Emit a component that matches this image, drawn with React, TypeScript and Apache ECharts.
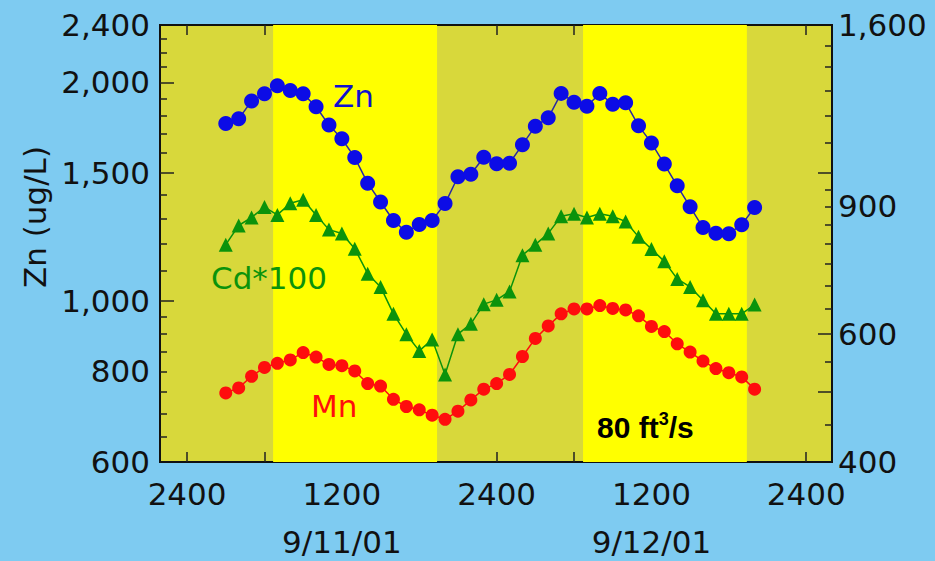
import React, { useEffect, useRef } from 'react';
import * as echarts from 'echarts';

// Hours since midnight starting 9/11/01 (hourly samples)
const hours = [3, 4, 5, 6, 7, 8, 9, 10, 11, 12, 13, 14, 15, 16, 17, 18, 19, 20, 21, 22, 23, 24,
  25, 26, 27, 28, 29, 30, 31, 32, 33, 34, 35, 36, 37, 38, 39, 40, 41, 42, 43, 44];

const zn = [1756, 1782, 1886, 1929, 1979, 1950, 1929, 1852, 1747, 1673, 1576, 1453, 1369, 1291,
  1244, 1275, 1291, 1362, 1483, 1495, 1578, 1545, 1548, 1642, 1741, 1788, 1932, 1879, 1855, 1932,
  1866, 1876, 1744, 1651, 1544, 1441, 1348, 1262, 1240, 1238, 1274, 1345];

const cd100 = [797, 847, 869, 898, 876, 909, 919, 876, 836, 826, 787, 727, 697, 640, 600, 569,
  590, 528, 600, 620, 660, 669, 687, 771, 797, 826, 872, 879, 869, 879, 872, 858, 817, 786, 756,
  715, 697, 668, 640, 640, 640, 659];

const mn = [498, 506, 525, 540, 547, 553, 566, 558, 545, 543, 534, 513, 509, 488, 477, 472, 464,
  458, 470, 487, 504, 513, 528, 559, 592, 616, 640, 650, 650, 657, 651, 648, 636, 615, 605, 582,
  567, 551, 538, 531, 524, 504];

// daylight periods (hours)
const dayBands = [[6.67, 19.38], [30.7, 43.4]];

const xTickHours = [0, 6, 12, 18, 24, 30, 36, 42, 48];
const xLabelHours = [0, 12, 24, 36, 48];
const xLabelTexts = ['2400', '1200\n9/11/01', '2400', '1200\n9/12/01', '2400'];

const leftTickLabels = [600, 800, 1000, 1500, 2000, 2400];
const leftMinorTicks = [650, 700, 750, 800, 850, 900, 950, 1100, 1200, 1300, 1400, 1600, 1700,
  1800, 1900, 2100, 2200, 2300];
const leftMajorTicks = [1000, 1500, 2000];

const rightTickLabels = [400, 600, 900, 1600];
const rightMinorTicks = [450, 550, 650, 700, 750, 800, 850, 900, 950, 1100, 1200, 1300, 1400, 1500];
const rightMajorTicks = [500, 600, 1000];

const FONT = 'DejaVu Sans';
const INK = '#111111';

export default function App() {
  const ref = useRef<HTMLDivElement>(null);

  useEffect(() => {
    document.body.style.margin = '0';
    const chart = echarts.init(ref.current!, null, { renderer: 'svg' });
    const fmt = (v: number) => Math.round(v).toLocaleString('en-US');
    const labelStyle = { fontSize: 31, fontFamily: FONT, color: INK };
    const tickLine = { color: '#222', width: 1.5 };

    const option: any = {
      animation: false,
      backgroundColor: '#7ecbf1',
      grid: {
        left: 160, right: 103, top: 25, bottom: 99,
        outerBoundsMode: 'none', containLabel: false,
        show: true, backgroundColor: '#d8d83b', borderColor: INK, borderWidth: 2,
      },
      xAxis: [
        {
          type: 'value', min: -2.1, max: 50, position: 'bottom',
          axisLine: { show: true, onZero: false, lineStyle: { color: INK, width: 2 } },
          axisTick: { show: true, inside: true, length: 10, customValues: xTickHours, lineStyle: tickLine },
          axisLabel: {
            customValues: xLabelHours,
            formatter: (v: number) => xLabelTexts[xLabelHours.indexOf(Math.round(v))] ?? '',
            ...labelStyle, lineHeight: 48, margin: 8,
          },
          splitLine: { show: false },
        },
        {
          type: 'value', min: -2.1, max: 50, position: 'top',
          axisLine: { show: true, onZero: false, lineStyle: { color: INK, width: 2 } },
          axisTick: { show: true, inside: true, length: 10, customValues: xTickHours, lineStyle: tickLine },
          axisLabel: { show: false },
          splitLine: { show: false },
        },
      ],
      yAxis: [
        {
          type: 'log', logBase: 10, min: 600, max: 2400, position: 'left',
          axisLine: { show: true, onZero: false, lineStyle: { color: INK, width: 2 } },
          axisTick: { show: true, inside: true, length: 7, customValues: leftMinorTicks, lineStyle: tickLine },
          axisLabel: { customValues: leftTickLabels, formatter: fmt, ...labelStyle, margin: 10 },
          splitLine: { show: false },
        },
        {
          type: 'log', logBase: 10, min: 400, max: 1600, position: 'right',
          axisLine: { show: true, onZero: false, lineStyle: { color: INK, width: 2 } },
          axisTick: { show: true, inside: true, length: 7, customValues: rightMinorTicks, lineStyle: tickLine },
          axisLabel: { customValues: rightTickLabels, formatter: fmt, ...labelStyle, margin: 6 },
          splitLine: { show: false },
        },
        {
          type: 'log', logBase: 10, min: 600, max: 2400, position: 'left',
          axisLine: { show: false, onZero: false },
          axisTick: { show: true, inside: true, length: 14, customValues: leftMajorTicks, lineStyle: tickLine },
          axisLabel: { show: false }, splitLine: { show: false },
        },
        {
          type: 'log', logBase: 10, min: 400, max: 1600, position: 'right',
          axisLine: { show: false, onZero: false },
          axisTick: { show: true, inside: true, length: 14, customValues: rightMajorTicks, lineStyle: tickLine },
          axisLabel: { show: false }, splitLine: { show: false },
        },
      ],
      series: [
        {
          name: 'Zn', type: 'line', xAxisIndex: 0, yAxisIndex: 0,
          data: hours.map((h, i) => [h, zn[i]]),
          symbol: 'circle', symbolSize: 15,
          itemStyle: { color: '#0c0ce6' },
          lineStyle: { color: '#2a2aa0', width: 1.5 },
          markArea: {
            silent: true,
            itemStyle: { color: '#ffff00' },
            data: dayBands.map(([a, b]) => [{ xAxis: a }, { xAxis: b }]),
          },
          z: 3,
        },
        {
          name: 'Cd*100', type: 'line', xAxisIndex: 0, yAxisIndex: 1,
          data: hours.map((h, i) => [h, cd100[i]]),
          symbol: 'triangle', symbolSize: 14,
          itemStyle: { color: '#0b930b' },
          lineStyle: { color: '#0b930b', width: 1.5 },
          z: 3,
        },
        {
          name: 'Mn', type: 'line', xAxisIndex: 0, yAxisIndex: 1,
          data: hours.map((h, i) => [h, mn[i]]),
          symbol: 'circle', symbolSize: 13,
          itemStyle: { color: '#ff0d0d' },
          lineStyle: { color: '#ff0d0d', width: 1.5 },
          z: 3,
        },
      ],
      graphic: [
        {
          type: 'text', x: 35, y: 217, rotation: Math.PI / 2, z: 100,
          style: { text: 'Zn (ug/L)', fontSize: 31, fontFamily: FONT, fill: INK, align: 'center', verticalAlign: 'middle' },
        },
        { type: 'text', left: 333, top: 80, z: 100, style: { text: 'Zn', fontSize: 31, fontFamily: FONT, fill: '#1010d0' } },
        { type: 'text', left: 211, top: 262, z: 100, style: { text: 'Cd*100', fontSize: 31, fontFamily: FONT, fill: '#0b930b' } },
        { type: 'text', left: 311, top: 390, z: 100, style: { text: 'Mn', fontSize: 31, fontFamily: FONT, fill: '#ff0d0d' } },
        {
          type: 'text', left: 597, top: 410, z: 100,
          style: {
            text: '{a|80 ft}{b|3}{a|/s}',
            rich: {
              a: { fontSize: 30, fontWeight: 'bold', fontFamily: 'Liberation Sans', fill: '#000', lineHeight: 34 },
              b: { fontSize: 18, fontWeight: 'bold', fontFamily: 'Liberation Sans', fill: '#000', verticalAlign: 'top', lineHeight: 34 },
            },
          },
        },
      ],
    };
    chart.setOption(option);
    return () => chart.dispose();
  }, []);

  return <div ref={ref} style={{ position: 'fixed', left: 0, top: 0, width: 935, height: 561 }} />;
}
